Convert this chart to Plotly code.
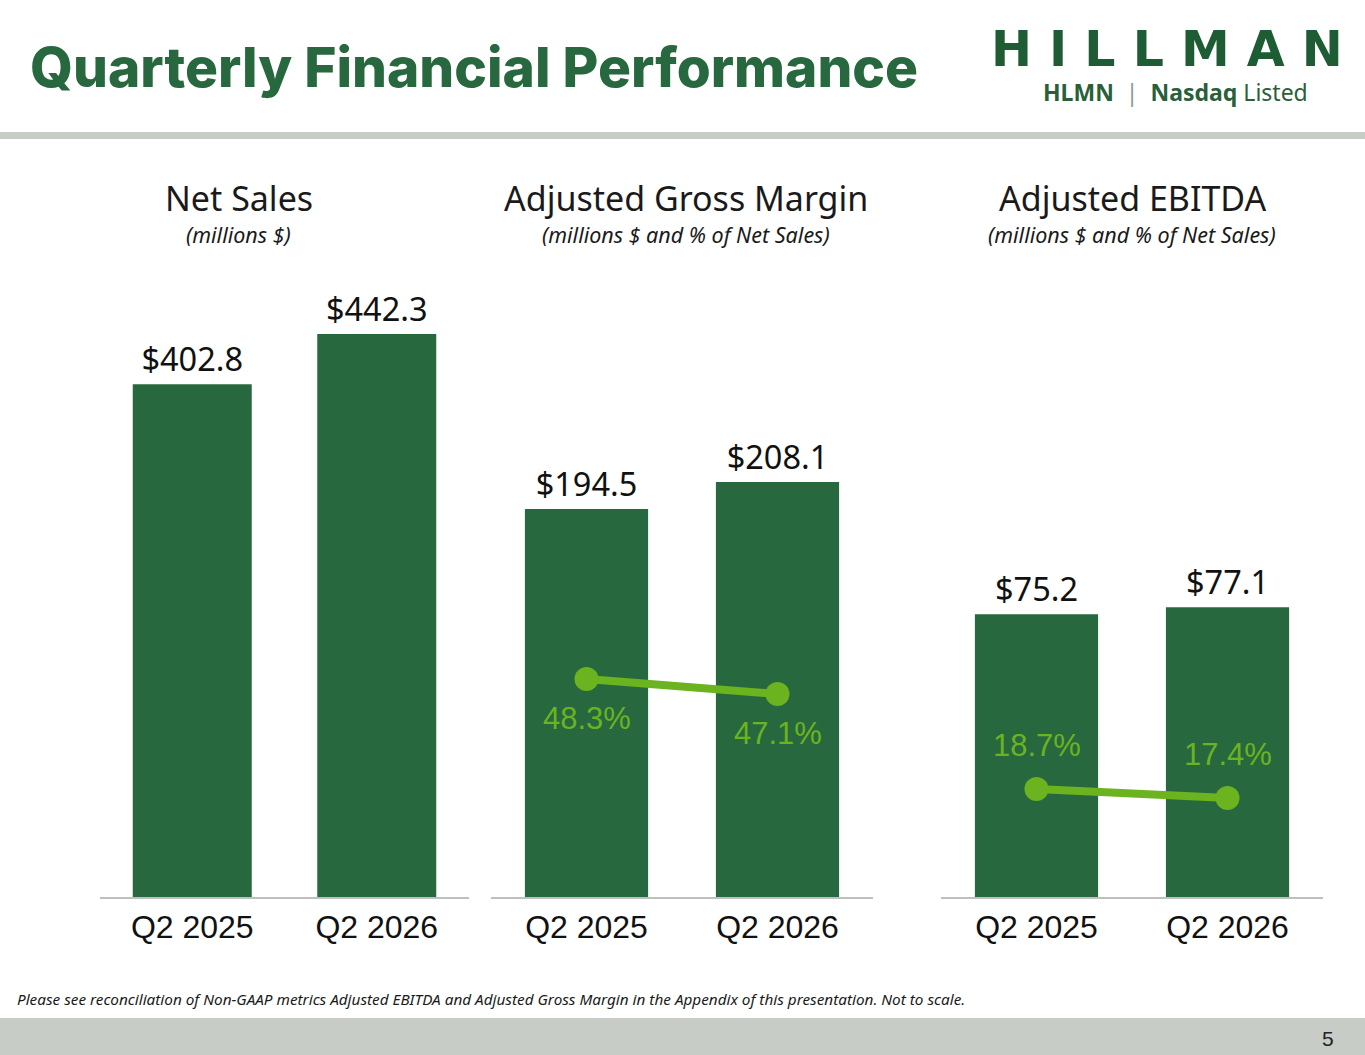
import plotly.graph_objects as go

# ---- data ----
periods = ["Q2 2025", "Q2 2026"]
net_sales = [402.8, 442.3]
gross_margin = [194.5, 208.1]
gross_margin_pct = [48.3, 47.1]
ebitda = [75.2, 77.1]
ebitda_pct = [18.7, 17.4]

panel_titles = ["Net Sales", "Adjusted Gross Margin", "Adjusted EBITDA"]
panel_subtitles = ["(millions $)", "(millions $ and % of Net Sales)",
                   "(millions $ and % of Net Sales)"]

W, H = 1365, 1055
BAR = "#27683F"
LIME = "#6BB31F"
GREY = "#C8CCC6"


def px_x(x):
    return x / W


def px_y(y):
    return 1 - y / H


ydom = [px_y(897), px_y(297)]

fig = go.Figure()

bar_sets = [(net_sales, "x", "y"), (gross_margin, "x2", "y2"), (ebitda, "x3", "y3")]
for vals, xa, ya in bar_sets:
    fig.add_trace(go.Bar(
        x=periods, y=vals, xaxis=xa, yaxis=ya,
        width=0.645,
        marker=dict(color=BAR, line=dict(width=0)),
        texttemplate="$%{y:.1f}", textposition="outside",
        constraintext="none", cliponaxis=False,
        textfont=dict(family="Noto Sans", size=32.5, color="#111111"),
        hoverinfo="skip",
    ))

# margin % lines (labels added as annotations on the same axes)
fig.add_trace(go.Scatter(
    x=periods, y=gross_margin_pct, xaxis="x2", yaxis="y4", mode="lines+markers",
    line=dict(color=LIME, width=8), marker=dict(color=LIME, size=24),
    cliponaxis=False,
))
fig.add_trace(go.Scatter(
    x=periods, y=ebitda_pct, xaxis="x3", yaxis="y5", mode="lines+markers",
    line=dict(color=LIME, width=8), marker=dict(color=LIME, size=24),
    cliponaxis=False,
))

xdoms = [[px_x(100), px_x(469)], [px_x(491), px_x(873)], [px_x(941), px_x(1323)]]
yranges = [[0, 471.3], [0, 300.8], [0, 159.6]]

xaxis_style = dict(
    type="category", range=[-0.5, 1.5], showgrid=False, zeroline=False,
    showline=True, linecolor="#BFBFBF", linewidth=2,
    ticks="outside", ticklen=1, tickcolor="rgba(0,0,0,0)",
    tickfont=dict(family="Liberation Sans", size=32, color="#111111"),
    fixedrange=True,
)
yaxis_style = dict(visible=False, showgrid=False, zeroline=False, fixedrange=True)

layout = dict(
    width=W, height=H, margin=dict(l=0, r=0, t=0, b=0),
    paper_bgcolor="white", plot_bgcolor="white",
    showlegend=False, bargap=0.355,
)
for i in range(3):
    sfx = "" if i == 0 else str(i + 1)
    layout["xaxis" + sfx] = dict(xaxis_style, domain=xdoms[i], anchor="y" + sfx)
    layout["yaxis" + sfx] = dict(yaxis_style, domain=ydom, range=yranges[i], anchor="x" + sfx)
layout["yaxis4"] = dict(yaxis_style, overlaying="y2", range=[30.86, 78.86], anchor="x2")
layout["yaxis5"] = dict(yaxis_style, overlaying="y3", range=[3.1, 89.8], anchor="x3")
fig.update_layout(**layout)

# header / footer bands
fig.add_shape(type="rect", xref="paper", yref="paper", x0=0, x1=1,
              y0=px_y(139), y1=px_y(132), fillcolor=GREY, line_width=0, layer="below")
fig.add_shape(type="rect", xref="paper", yref="paper", x0=0, x1=1,
              y0=0, y1=px_y(1018), fillcolor=GREY, line_width=0, layer="below")

ann = []
ann.append(dict(text="Quarterly Financial Performance", x=px_x(28), y=px_y(67),
                xanchor="left", yanchor="middle",
                font=dict(family="Inter", size=55, color=BAR, weight=800)))
ann.append(dict(text="H I L L M A N", x=px_x(1167), y=px_y(49),
                xanchor="center", yanchor="middle",
                font=dict(family="DejaVu Sans", size=49, color="#1E5C33", weight=700)))
ann.append(dict(text="<b>HLMN</b>  <span style='color:#8A9A8E'>|</span>  <b>Nasdaq</b> Listed",
                x=px_x(1175), y=px_y(92), xanchor="center", yanchor="middle",
                font=dict(family="Noto Sans", size=23, color="#2A5F3A")))

centers = [239, 686, 1132]
for c, t, s in zip(centers, panel_titles, panel_subtitles):
    ann.append(dict(text=t, x=px_x(c), y=px_y(198), xanchor="center", yanchor="middle",
                    font=dict(family="Noto Sans", size=34, color="#1A1A1A")))
    ann.append(dict(text=f"<i>{s}</i>", x=px_x(c), y=px_y(235), xanchor="center",
                    yanchor="middle",
                    font=dict(family="Noto Sans", size=21.5, color="#1A1A1A")))

# percent labels, placed on the line axes
for xa, ya, vals, shift in [("x2", "y4", gross_margin_pct, -39), ("x3", "y5", ebitda_pct, 44)]:
    for p, v in zip(periods, vals):
        ann.append(dict(text=f"{v:.1f}%", x=p, y=v, xref=xa, yref=ya, yshift=shift,
                        xanchor="center", yanchor="middle", showarrow=False,
                        font=dict(family="Liberation Sans", size=31, color=LIME)))

ann.append(dict(text="<i>Please see reconciliation of Non-GAAP metrics Adjusted EBITDA and "
                     "Adjusted Gross Margin in the Appendix of this presentation. Not to scale.</i>",
                x=px_x(15), y=px_y(999), xanchor="left", yanchor="middle",
                font=dict(family="Noto Sans", size=15.3, color="#1A1A1A")))
ann.append(dict(text="5", x=px_x(1328), y=px_y(1038), xanchor="center", yanchor="middle",
                font=dict(family="Liberation Sans", size=21, color="#222222")))

for a in ann:
    a.setdefault("xref", "paper")
    a.setdefault("yref", "paper")
    a["showarrow"] = False
fig.update_layout(annotations=ann)

fig.write_html("out.html", config={"displayModeBar": False},
               post_script="document.body.style.margin='0';")
